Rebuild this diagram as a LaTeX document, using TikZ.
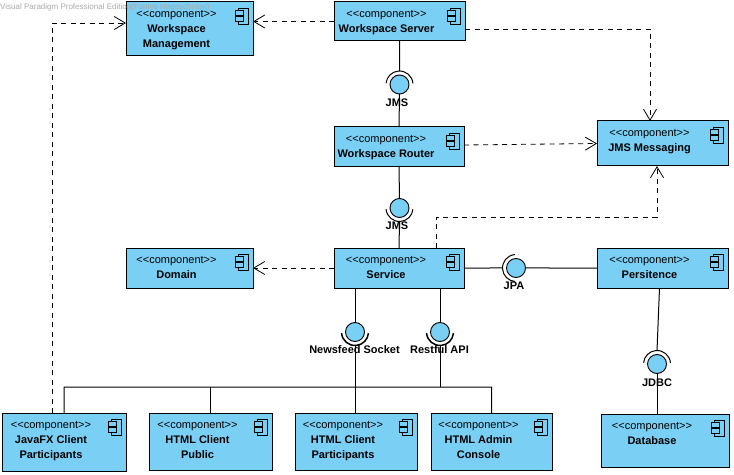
\documentclass[tikz,border=0pt]{standalone}
\usepackage{fontspec}
\setmainfont{Liberation Sans}
\usetikzlibrary{arrows.meta,positioning,calc}
\definecolor{compcol}{RGB}{122,207,245}
\definecolor{markcol}{RGB}{170,170,170}
\newcommand{\St}{<{}<component>{}>}
\newcommand{\CompText}[3]{\node[boxtext,below=0bp of #1.north,xshift=-13bp] (#2) {\St\\#3};}
\newcommand{\CompIcon}[1]{%
  \draw[iconline] ($(#1.north east)+(-15,6)$) rectangle ($(#1.north east)+(-5,22)$);
  \draw[iconline,fill=compcol] ($(#1.north east)+(-18,8.5)$) rectangle ($(#1.north east)+(-10,13)$);
  \draw[iconline,fill=compcol] ($(#1.north east)+(-18,14.5)$) rectangle ($(#1.north east)+(-10,19)$);}
\newcommand{\SocketArc}[3][]{\draw[conn,#1] ($(#2)+(#3-85:13.5bp)$) arc[start angle=#3-85,end angle=#3+85,radius=13.5bp];}

\begin{document}
\begin{tikzpicture}[
   x=1bp,y=-1bp,
   box/.style={draw,fill=compcol,rectangle,line width=1bp,outer sep=0pt,inner sep=0pt},
   tl/.style={anchor=north west},
   boxtext/.style={align=center,inner sep=0pt,yshift=-8bp,font=\fontsize{11bp}{15bp}\selectfont},
   iface/.style={draw,circle,fill=compcol,minimum size=19bp,inner sep=0pt,outer sep=0pt,line width=0.9bp},
   sock/.style={circle,minimum size=27bp,inner sep=0pt,outer sep=0pt},
   ifacelabel/.style={inner sep=0pt,font=\fontsize{11bp}{13bp}\selectfont\bfseries},
   iconline/.style={line width=0.9bp},
   conn/.style={line width=1bp},
   dep/.style={line width=0.8bp,dash pattern=on 5bp off 4.5bp,-{Straight Barb[length=11bp,width=13bp,line width=0.8bp]}}]
  \useasboundingbox (0,0) rectangle (734,475);

  \node[box,tl,minimum width=127bp,minimum height=54bp] (wmanage) at (126,2) {};
  \node[box,tl,minimum width=131bp,minimum height=39bp,right=81bp of wmanage.north east,anchor=north west] (wserver) {};
  \node[box,tl,minimum width=130bp,minimum height=40bp,below=86bp of wserver.south west,anchor=north west] (wrouter) {};
  \node[box,minimum width=131bp,minimum height=45bp,right=133bp of wrouter.north east,anchor=north west,yshift=6bp] (jmsmsg) {};
  \node[box,minimum width=130bp,minimum height=40bp,below=81bp of wrouter] (service) {};
  \node[box,minimum width=127bp,minimum height=40bp,left=81bp of service] (domain) {};
  \node[box,minimum width=131bp,minimum height=40bp,right=133bp of service] (persit) {};
  \node[box,tl,minimum width=124bp,minimum height=58bp] (javafx) at (2,413) {};
  \node[box,minimum width=123bp,minimum height=57bp,right=23bp of javafx.north east,anchor=north west] (public) {};
  \node[box,minimum width=122bp,minimum height=57bp,right=23bp of public.north east,anchor=north west] (partic) {};
  \node[box,minimum width=121bp,minimum height=57bp,right=14bp of partic.north east,anchor=north west] (admin) {};
  \node[box,tl,minimum width=128bp,minimum height=53bp] (database) at (601,414) {};

  \CompText{wmanage}{wmanaget}{\textbf{Workspace}\\\textbf{Management}}
  \CompText{wserver}{wservert}{\textbf{Workspace Server}}
  \CompText{wrouter}{wroutert}{\textbf{Workspace Router}}
  \CompText{jmsmsg}{jmsmsgt}{\textbf{JMS Messaging}}
  \CompText{service}{servicet}{\textbf{Service}}
  \CompText{domain}{domaint}{\textbf{Domain}}
  \CompText{persit}{persitt}{\textbf{Persitence}}
  \CompText{javafx}{javafxt}{\textbf{JavaFX Client}\\\textbf{Participants}}
  \CompText{public}{publict}{\textbf{HTML Client}\\\textbf{Public}}
  \CompText{partic}{partict}{\textbf{HTML Client}\\\textbf{Participants}}
  \CompText{admin}{admint}{\textbf{HTML Admin}\\\textbf{Console}}
  \CompText{database}{databaset}{\textbf{Database}}

  \foreach \n in {wmanage,wserver,wrouter,jmsmsg,service,domain,persit,javafx,public,partic,admin,database}
    {\CompIcon{\n}}

  \node[iface] (jmsa) at (399.5,84.5) {};
  \node[iface] (jmsb) at (399.5,208) {};
  \node[iface] (jpa) at (516,268) {};
  \node[iface] (newsf) at (355,332) {};
  \node[iface] (restf) at (440,332) {};
  \node[iface] (jdbc) at (657,364) {};
  \node[sock] (jmsas) at (jmsa) {};
  \node[sock] (jmsbs) at (jmsb) {};
  \node[sock] (jpas) at (jpa) {};
  \node[sock] (newss) at (newsf) {};
  \node[sock] (rests) at (restf) {};
  \node[sock] (jdbcs) at (jdbc) {};

  \draw[conn] (wserver.south) -- (jmsas.north);
  \draw[conn] (jmsa.south) -- (wrouter.north);
  \draw[conn] (wrouter.south) -- (jmsb.north);
  \draw[conn] (jmsbs.south) -- (service.north);
  \draw[conn] (service.east) -- (jpas.west);
  \draw[conn] (jpa.east) -- (persit.west);
  \draw[conn] (persit.south) ++(-3,0) -- (jdbcs.north);
  \draw[conn] (jdbc.south) -- (jdbc |- database.north);
  \draw[conn] (newsf |- service.south) -- (newsf.north);
  \draw[conn] (restf |- service.south) -- (restf.north);
  \coordinate (busr) at (491.5,387);
  \draw[conn] (newss.south) -- (newss |- partic.north);
  \draw[conn] (rests.south) -- (rests |- busr);
  \draw[conn] (javafx.north) |- (busr) -- (admin.north);
  \draw[conn] (public.north) -- (public.north |- busr);

  \SocketArc{jmsas}{90}
  \SocketArc{jmsbs}{270}
  \SocketArc{jpas}{180}
  \SocketArc[line width=1.5bp]{newss}{270}
  \SocketArc[line width=1.5bp]{rests}{270}
  \SocketArc{jdbcs}{90}

  \node[ifacelabel] (jmsal) at (397,103) {JMS};
  \node[ifacelabel] (jmsbl) at (397,226) {JMS};
  \node[ifacelabel] (jpal) at (514,286) {JPA};
  \node[ifacelabel] (newsl) at (354.5,350) {Newsfeed Socket};
  \node[ifacelabel] (restl) at (439.5,350) {Restful API};
  \node[ifacelabel] (jdbcl) at (657,383) {JDBC};

  \draw[dep] (wserver.west) -- (wserver.west -| wmanage.east);
  \draw[dep] ($(wserver.east)+(0,7.5)$) -| ($(jmsmsg.north)+(-12.5,0)$);
  \draw[dep] ($(wrouter.east)+(0,-2)$) -- (jmsmsg.west);
  \coordinate (depturn) at (657,217);
  \draw[dep] ($(service.north)+(37,0)$) |- (depturn) -- (depturn |- jmsmsg.south);
  \draw[dep] (service.west) -- (domain.east);
  \draw[dep] ($(javafx.north)+(-12,0)$) |- ($(wmanage.west)+(0,-6)$);

  \node[anchor=west,inner sep=0pt,text=markcol,font=\fontsize{8bp}{10bp}\selectfont] (mark) at (0,7.5)
       {Visual Paradigm Professional Edition(Fontys Hogescholen)};
\end{tikzpicture}
\end{document}
